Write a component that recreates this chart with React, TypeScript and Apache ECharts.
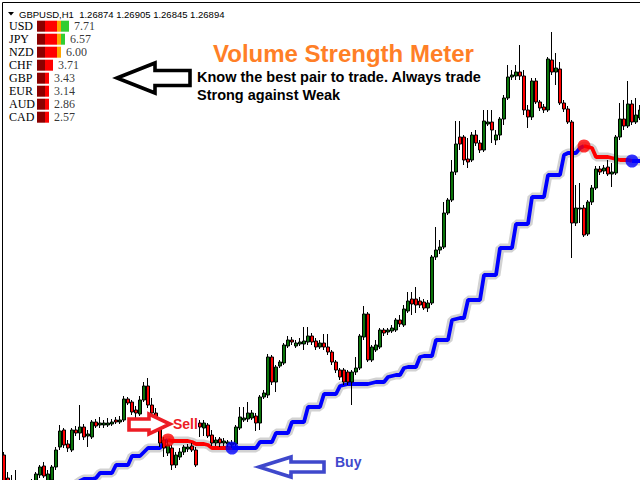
import React, { useEffect, useRef } from "react";
import * as echarts from "echarts";

// Candle values in points above the chart's lower edge
const candleOpen = [
  25, 2, -10, -3, -10, -20, -8, -12, -5, 5,
  14, -2, 0, 13, 33, 50, 36, 30, 50, 47,
  53, 44, 43, 58, 55, 55, 55, 56, 60, 58,
  60, 81, 78, 70, 66, 80, 94, 75, 67, 53,
  40, 27, 32, 15, 23, 28, 31, 34, 30, 57,
  52, 55, 45, 37, 41, 37, 36, 35, 36, 52,
  60, 61, 62, 64, 57, 83, 85, 123, 98, 114,
  117, 134, 140, 134, 136, 136, 138, 144, 139, 133,
  137, 133, 128, 118, 110, 110, 108, 98, 108, 112,
  143, 166, 120, 130, 133, 150, 148, 149, 150, 160,
  155, 169, 181, 181, 179, 178, 172, 177, 223, 230,
  233, 267, 280, 308, 343, 343, 321, 320, 345, 337,
  330, 356, 358, 340, 345, 361, 382, 403, 404, 408,
  404, 370, 363, 399, 378, 373, 370, 420, 408, 411,
  377, 371, 358, 257, 271, 272, 246, 278, 292, 311,
  309, 313, 306, 307, 343, 361, 354, 376, 358, 362,
];
const candleClose = [
  -12, -15, -2, -15, -20, -12, -18, -2, 6, 13,
  4, 6, 13, 30, 49, 35, 32, 50, 47, 53,
  43, 46, 58, 54, 57, 57, 57, 58, 58, 60,
  81, 77, 68, 67, 80, 94, 75, 67, 57, 37,
  32, 35, 15, 25, 28, 33, 33, 30, 15, 53,
  57, 44, 37, 40, 37, 39, 38, 37, 53, 63,
  62, 67, 67, 57, 83, 87, 123, 98, 113, 118,
  135, 140, 138, 137, 138, 139, 144, 138, 133, 137,
  133, 128, 118, 110, 103, 98, 98, 108, 112, 144,
  166, 120, 133, 135, 150, 147, 150, 152, 160, 156,
  171, 179, 176, 175, 175, 172, 177, 223, 230, 233,
  267, 280, 308, 336, 336, 320, 318, 345, 337, 330,
  359, 358, 350, 345, 361, 382, 403, 405, 408, 404,
  370, 363, 399, 378, 372, 370, 421, 408, 412, 377,
  371, 358, 257, 272, 272, 245, 278, 292, 311, 308,
  312, 306, 308, 343, 361, 354, 376, 358, 365, 370,
];
const candleLow = [
  -18, -20, -15, -20, -25, -28, -25, -16, -8, 2,
  2, -5, -2, 10, 30, 32, 28, 28, 44, 40,
  40, 33, 41, 52, 52, 52, 53, 54, 56, 56,
  58, 75, 65, 62, 64, 78, 72, 64, 52, 33,
  23, 24, 10, 12, 20, 25, 28, 28, 13, 43,
  44, 42, 34, 34, 33, 34, 33, 32, 34, 50,
  58, 58, 60, 49, 50, 81, 82, 95, 88, 112,
  115, 132, 135, 132, 134, 130, 135, 135, 130, 131,
  130, 125, 115, 107, 100, 95, 95, 75, 105, 110,
  140, 118, 118, 128, 131, 144, 145, 147, 148, 153,
  153, 167, 165, 167, 172, 170, 168, 175, 220, 226,
  231, 265, 278, 305, 330, 315, 312, 318, 334, 327,
  328, 354, 337, 335, 340, 355, 380, 400, 400, 400,
  365, 352, 360, 376, 369, 367, 368, 405, 395, 375,
  368, 356, 222, 254, 257, 243, 244, 275, 290, 305,
  306, 304, 293, 305, 340, 350, 352, 355, 356, 360,
];
const candleHigh = [
  28, 8, 5, 10, -4, -6, -2, 1, 8, 15,
  18, 10, 15, 33, 55, 52, 40, 52, 54, 75,
  56, 50, 60, 61, 63, 60, 62, 61, 63, 64,
  84, 83, 80, 74, 84, 98, 102, 82, 72, 60,
  43, 40, 35, 28, 32, 35, 36, 37, 33, 60,
  60, 57, 50, 43, 43, 42, 40, 40, 55, 73,
  73, 78, 70, 67, 85, 90, 126, 125, 115, 120,
  137, 144, 143, 140, 142, 153, 153, 147, 142, 140,
  146, 146, 130, 120, 112, 112, 110, 110, 123, 146,
  174, 168, 135, 140, 152, 152, 152, 155, 162, 165,
  175, 188, 188, 193, 183, 181, 180, 225, 253, 240,
  278, 282, 320, 359, 359, 345, 342, 348, 350, 340,
  370, 370, 370, 350, 363, 385, 415, 410, 415, 435,
  410, 375, 402, 402, 380, 376, 423, 448, 427, 418,
  380, 374, 360, 295, 297, 275, 280, 295, 314, 314,
  315, 320, 317, 345, 377, 380, 399, 380, 382, 375,
];
// Trailing stop line (step), null where not drawn
const trailStop = [
  null, null, null, null, null, null, null, null, null, null,
  null, null, null, null, null, null, null, -7, -4, -1,
  1, 1, 1, 2, 7, 7, 7, 7, 15, 15,
  15, 15, 24, 24, 24, 28, 32, 32, 32, 32,
  38, 40, 39, 39, 39, 39, 39, 38, 36, 36,
  36, 35, 32, 32, 32, 32, 32, 32, 32, 32,
  32, 32, 32, 32, 38, 38, 38, 38, 47, 47,
  47, 47, 58, 58, 58, 58, 73, 73, 73, 73,
  86, 86, 86, 86, 94, 95, 96, 96, 96, 96,
  96, 96, 97, 98, 98, 98, 103, 104, 105, 105,
  112, 113, 113, 113, 123, 124, 124, 124, 140, 140,
  140, 140, 160, 161, 162, 162, 180, 180, 180, 180,
  205, 205, 205, 205, 232, 232, 232, 232, 256, 256,
  256, 256, 283, 283, 283, 283, 305, 305, 305, 305,
  325, 327, 327, 327, 332, 334, 333, 332, 323, 323,
  323, 323, 322, 321, 320, 320, 320, 319, 319, 319,
];
const sellSignalIdx = [41, 145];
const buySignalIdx = [57, 157];

const currencies = ["USD", "JPY", "NZD", "CHF", "GBP", "EUR", "AUD", "CAD"];
const strengths = [7.71, 6.57, 6.0, 3.71, 3.43, 3.14, 2.86, 2.57];

const headerText = "GBPUSD,H1  1.26874 1.26905 1.26845 1.26894";
const titleText = "Volume Strength Meter";
const subLine1 = "Know the best pair to trade. Always trade";
const subLine2 = "Strong against Weak";

export default function App() {
  const ref = useRef<HTMLDivElement>(null);
  useEffect(() => {
    if (!ref.current) return;
    const chart = echarts.init(ref.current, null, { renderer: "svg" });
    const categories = candleOpen.map((_, i) => String(i + 1));
    const candles = candleOpen.map((o, i) => [o, candleClose[i], candleLow[i], candleHigh[i]]);
    const inDown = (i: number) => sellSignalIdx.some((s, k) => i >= s && i <= buySignalIdx[k]);
    const inDownStrict = (i: number) => sellSignalIdx.some((s, k) => i > s && i < buySignalIdx[k]);
    const blueLine = trailStop.map((v, i) => (inDownStrict(i) ? null : v));
    const redLine = trailStop.map((v, i) => (inDown(i) ? v : null));
    const sellDots = sellSignalIdx.map((i) => [i, trailStop[i]]);
    const buyDots = buySignalIdx.map((i) => [i, trailStop[i]]);

    const blocks = strengths.map((s) => Math.round(s));
    const clamp = (v: number, lo: number, hi: number) => Math.max(lo, Math.min(hi, v));
    const darkRed = blocks.map((b) => clamp(b, 0, 2));
    const red = blocks.map((b) => clamp(b - 2, 0, 3));
    const orange = blocks.map((b) => clamp(b - 5, 0, 1));
    const green = blocks.map((b) => Math.max(b - 6, 0));

    const meterBar = (data: number[], color: string) => ({
      type: "bar",
      xAxisIndex: 1,
      yAxisIndex: 1,
      stack: "meter",
      barWidth: 11,
      data,
      itemStyle: { color },
      silent: true,
    });

    const arrowStyle = (stroke: string) => ({ fill: "#ffffff", stroke, lineWidth: 3.6, lineJoin: "miter" });

    chart.setOption({
      animation: false,
      backgroundColor: "#ffffff",
      grid: [
        { left: 4, right: 0, top: 0, bottom: 0 },
        { left: 37, top: 19.7, width: 40, height: 104 },
      ],
      xAxis: [
        { type: "category", data: categories, boundaryGap: false, show: false, gridIndex: 0 },
        { type: "value", min: 0, max: 10, show: false, gridIndex: 1 },
      ],
      yAxis: [
        { type: "value", min: 0, max: 480, show: false, gridIndex: 0 },
        {
          type: "category",
          data: currencies,
          inverse: true,
          gridIndex: 1,
          axisLine: { show: false },
          axisTick: { show: false },
          splitLine: { show: false },
          axisLabel: {
            show: true,
            interval: 0,
            align: "left",
            margin: 28,
            color: "#000",
            fontFamily: "Liberation Serif",
            fontSize: 12,
          },
        },
      ],
      series: [
        {
          type: "line",
          data: trailStop,
          symbol: "none",
          lineStyle: { width: 9, color: "#d2d2d2" },
          z: 2,
          silent: true,
        },
        {
          type: "line",
          data: blueLine,
          symbol: "none",
          lineStyle: { width: 3.8, color: "#0000ff" },
          z: 3,
          silent: true,
        },
        {
          type: "line",
          data: redLine,
          symbol: "none",
          lineStyle: { width: 3.8, color: "#ff0000" },
          z: 3,
          silent: true,
        },
        {
          type: "candlestick",
          data: candles,
          barWidth: 3.5,
          z: 5,
          silent: true,
          itemStyle: {
            color: "#0a740a",
            color0: "#ff0000",
            borderColor: "#000000",
            borderColor0: "#000000",
            borderColorDoji: "#000000",
            borderWidth: 1,
          },
        },
        {
          type: "scatter",
          data: sellDots,
          symbolSize: 13,
          itemStyle: { color: "#ff0000" },
          z: 6,
          silent: true,
        },
        {
          type: "scatter",
          data: buyDots,
          symbolSize: 13,
          itemStyle: { color: "#0000ff" },
          z: 6,
          silent: true,
        },
        meterBar(darkRed, "#8b0000"),
        meterBar(red, "#ff0000"),
        meterBar(orange, "#ffa500"),
        meterBar(green, "#32cd32"),
        {
          type: "scatter",
          xAxisIndex: 1,
          yAxisIndex: 1,
          data: blocks.map((b, i) => [b, i]),
          symbolSize: 0,
          silent: true,
          label: {
            show: true,
            position: "right",
            distance: 5,
            color: "#000",
            fontFamily: "Liberation Serif",
            fontSize: 12,
            formatter: (p: any) => strengths[p.dataIndex].toFixed(2),
          },
        },
      ],
      graphic: [
        { type: "line", z: 100, shape: { x1: 2.5, y1: 2.5, x2: 640, y2: 2.5 }, style: { stroke: "#000", lineWidth: 1 } },
        { type: "line", z: 100, shape: { x1: 2.5, y1: 2.5, x2: 2.5, y2: 480 }, style: { stroke: "#000", lineWidth: 1 } },
        { type: "polygon", z: 100, shape: { points: [[8, 12], [14, 12], [11, 15.5]] }, style: { fill: "#000" } },
        {
          type: "text", z: 100, x: 19, y: 14,
          style: { text: headerText, fill: "#000", fontSize: 9.5, fontFamily: "Liberation Sans", verticalAlign: "middle" },
        },
        {
          type: "text", z: 100, x: 213, y: 53.5,
          style: { text: titleText, fill: "#ff7f27", fontSize: 24, fontWeight: "bold", fontFamily: "Liberation Sans", verticalAlign: "middle" },
        },
        {
          type: "text", z: 100, x: 197, y: 77,
          style: { text: subLine1, fill: "#000", fontSize: 14.5, fontWeight: "bold", fontFamily: "Liberation Sans", verticalAlign: "middle" },
        },
        {
          type: "text", z: 100, x: 197, y: 94.5,
          style: { text: subLine2, fill: "#000", fontSize: 14.5, fontWeight: "bold", fontFamily: "Liberation Sans", verticalAlign: "middle" },
        },
        {
          type: "polygon", z: 100,
          shape: { points: [[117, 78], [155, 63], [155, 70.5], [190, 70.5], [190, 85.5], [155, 85.5], [155, 93]] },
          style: arrowStyle("#000000"),
        },
        {
          type: "polygon", z: 100,
          shape: { points: [[129, 419], [149, 419], [149, 414], [170, 424], [149, 434], [149, 430], [129, 430]] },
          style: arrowStyle("#ed1c24"),
        },
        {
          type: "text", z: 100, x: 173, y: 423.5,
          style: { text: "Sell", fill: "#ed1c24", fontSize: 14, fontWeight: "bold", fontFamily: "Liberation Sans", verticalAlign: "middle" },
        },
        {
          type: "polygon", z: 100,
          shape: { points: [[259, 467], [291, 457], [291, 462], [324, 462], [324, 472], [291, 472], [291, 477]] },
          style: arrowStyle("#3f48cc"),
        },
        {
          type: "text", z: 100, x: 335, y: 462,
          style: { text: "Buy", fill: "#3f48cc", fontSize: 14, fontWeight: "bold", fontFamily: "Liberation Sans", verticalAlign: "middle" },
        },
      ],
    });
    return () => chart.dispose();
  }, []);
  return (
    <div
      ref={ref}
      style={{ position: "fixed", left: 0, top: 0, width: 640, height: 480, background: "#ffffff" }}
    />
  );
}
